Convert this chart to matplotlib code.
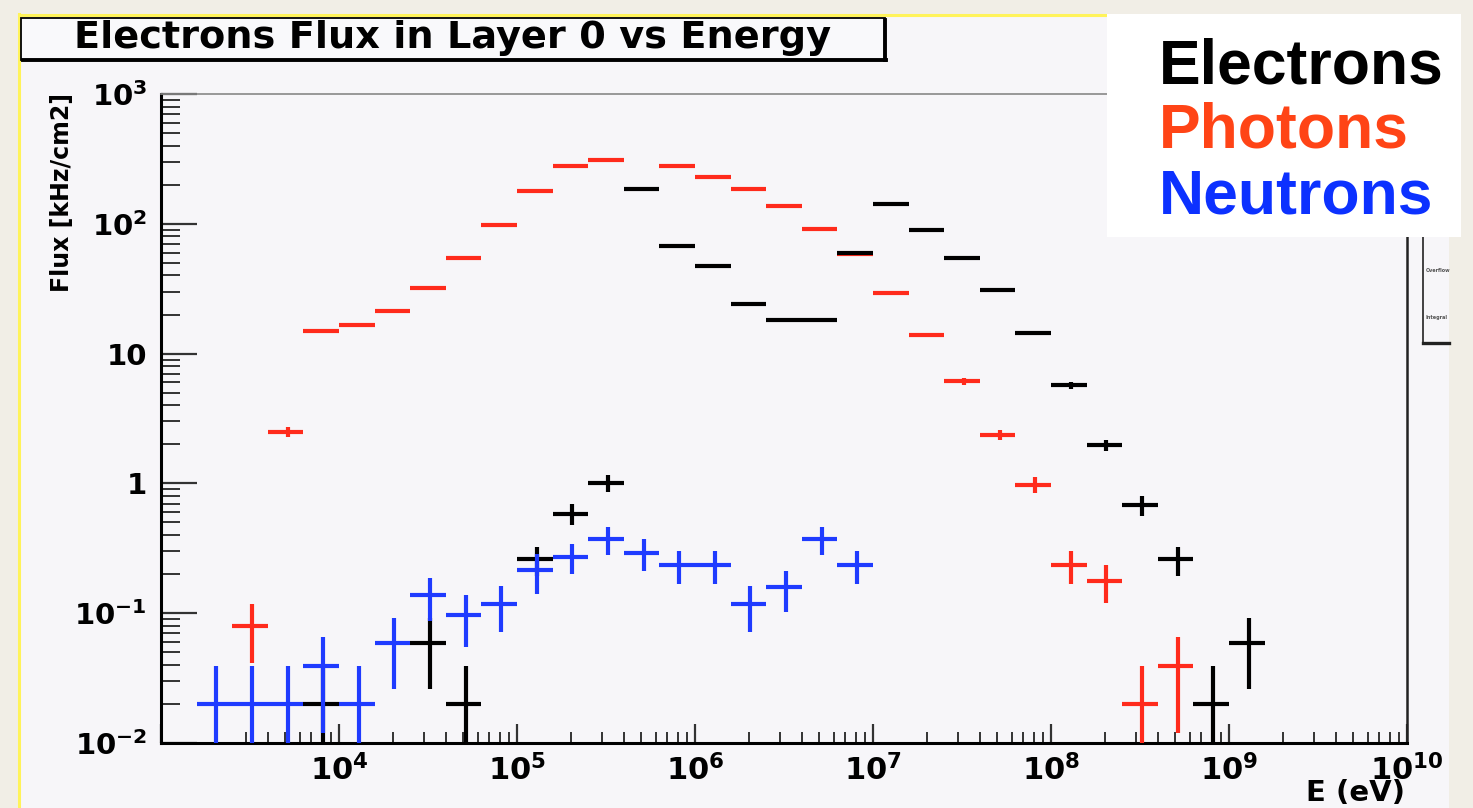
import numpy as np
import matplotlib
matplotlib.use("Agg")
import matplotlib.pyplot as plt
from matplotlib.patches import Rectangle
from matplotlib.lines import Line2D
from matplotlib.ticker import LogLocator, FuncFormatter, NullFormatter

# 35 log bins, 5 per decade, from 1 keV to 10 GeV
bin_edges = np.logspace(3, 10, 36)

nan = np.nan
# flux per bin [kHz/cm2] (nan = empty bin)
electrons = [nan, nan, nan, nan, 0.02, nan, nan, 0.059, 0.02, nan,
             0.26, 0.585, 1.01, 185, 68, 47, 24, 18.2, 18.2, 60,
             141, 89, 55, 31, 14.3, 5.7, 1.96, 0.68, 0.26, 0.02,
             0.059, nan, nan, nan, nan]
electrons_err = [0, 0, 0, 0, 0.019, 0, 0, 0.033, 0.019, 0,
                 0.065, 0.11, 0.15, 2.0, 1.2, 1.0, 0.7, 0.6, 0.6, 1.1,
                 1.7, 1.3, 1.0, 0.8, 0.5, 0.33, 0.19, 0.115, 0.065, 0.019,
                 0.033, 0, 0, 0, 0]

photons = [nan, nan, 0.079, 2.5, 15, 16.7, 21.4, 32, 55, 98,
           180, 277, 311, nan, 277, 230, 185, 136, 91, 59,
           29.4, 13.9, 6.1, 2.37, 0.98, 0.234, 0.177, 0.02, 0.039, nan,
           nan, nan, nan, nan, nan]
photons_err = [0, 0, 0.038, 0.21, 0.53, 0.56, 0.63, 0.78, 1.0, 1.4,
               1.85, 2.3, 2.4, 0, 2.3, 2.1, 1.9, 1.6, 1.3, 1.05,
               0.75, 0.51, 0.34, 0.21, 0.135, 0.065, 0.058, 0.019, 0.027, 0,
               0, 0, 0, 0, 0]

neutrons = [nan, 0.02, 0.02, 0.02, 0.039, 0.02, 0.059, 0.137, 0.097, 0.117,
            0.214, 0.271, 0.37, 0.291, 0.234, 0.234, 0.117, 0.158, 0.37, 0.234,
            nan, nan, nan, nan, nan, nan, nan, nan, nan, nan,
            nan, nan, nan, nan, nan]
neutrons_err = [0, 0.019, 0.019, 0.019, 0.027, 0.019, 0.033, 0.05, 0.042, 0.045,
                0.073, 0.07, 0.09, 0.08, 0.065, 0.065, 0.045, 0.055, 0.09, 0.065,
                0, 0, 0, 0, 0, 0, 0, 0, 0, 0,
                0, 0, 0, 0, 0]

title = "Electrons Flux in Layer 0 vs Energy"
legend_names = ["Electrons", "Photons", "Neutrons"]
legend_colors = ["#000000", "#ff4416", "#0c31ff"]

plt.rcParams["font.family"] = ["DejaVu Sans"]
plt.rcParams["font.weight"] = "bold"
plt.rcParams["mathtext.fontset"] = "dejavusans"
plt.rcParams["mathtext.default"] = "bf"

W, H = 1473, 808
BEIGE = "#f1eee6"
CANVAS = "#f7f6f9"


def fx(px):
    return px / W


def fy(py):
    return 1 - py / H


fig = plt.figure(figsize=(W / 100, H / 100), dpi=100)
fig.patch.set_facecolor(BEIGE)

# ROOT canvas and the yellow slide frame
fig.add_artist(Rectangle((fx(20), 0), fx(1449) - fx(20), fy(16), transform=fig.transFigure,
                         facecolor=CANVAS, edgecolor="none", zorder=-5))
fig.add_artist(Line2D([fx(19), fx(19)], [fy(14), 0], transform=fig.transFigure,
                      color="#fff35a", lw=2.2, zorder=-4))
fig.add_artist(Line2D([fx(19), fx(1107)], [fy(15), fy(15)], transform=fig.transFigure,
                      color="#fff35a", lw=2.2, zorder=-4))

ax = fig.add_axes([fx(161), fy(743), fx(1407) - fx(161), (743 - 94) / H])
ax.set_facecolor(CANVAS)
ax.set_xscale("log")
ax.set_yscale("log")
ax.set_xlim(1e3, 1e10)
ax.set_ylim(1e-2, 1e3)

lo = bin_edges[:-1]
hi = bin_edges[1:]
centers = (lo + hi) / 2

series = [(photons, photons_err, "#ff2b1c", 3),
          (electrons, electrons_err, "#000000", 4),
          (neutrons, neutrons_err, "#1f3bff", 5)]
for vals, errs, col, z in series:
    vals = np.array(vals, dtype=float)
    errs = np.array(errs, dtype=float)
    m = ~np.isnan(vals)
    ax.errorbar(centers[m], vals[m], xerr=[centers[m] - lo[m], hi[m] - centers[m]],
                yerr=errs[m], fmt="none", ecolor=col, elinewidth=3.0, capsize=0, zorder=z)

# ROOT-like axes: ticks inside, left and bottom only
ax.xaxis.set_major_locator(LogLocator(base=10, numticks=20))
ax.xaxis.set_minor_locator(LogLocator(base=10, subs=np.arange(2, 10), numticks=100))
ax.yaxis.set_major_locator(LogLocator(base=10, numticks=20))
ax.yaxis.set_minor_locator(LogLocator(base=10, subs=np.arange(2, 10), numticks=100))


def fmt_x(v, pos):
    e = int(round(np.log10(v)))
    if e <= 3:
        return ""
    return r"$10^{%d}$" % e


def fmt_y(v, pos):
    e = int(round(np.log10(v)))
    if e == 0:
        return "1"
    if e == 1:
        return "10"
    return r"$10^{%d}$" % e


ax.xaxis.set_major_formatter(FuncFormatter(fmt_x))
ax.yaxis.set_major_formatter(FuncFormatter(fmt_y))
ax.xaxis.set_minor_formatter(NullFormatter())
ax.yaxis.set_minor_formatter(NullFormatter())

ax.tick_params(axis="both", which="both", direction="in", top=False, right=False,
               color="#333333")
ax.tick_params(axis="y", which="major", length=26, width=1.6, pad=10, labelsize=21)
ax.tick_params(axis="y", which="minor", length=14, width=1.4)
ax.tick_params(axis="x", which="major", length=14, width=1.6, pad=8, labelsize=22)
ax.tick_params(axis="x", which="minor", length=8, width=1.4)

ax.spines["left"].set_linewidth(2.2)
ax.spines["bottom"].set_linewidth(2.2)
ax.spines["top"].set_color("#888888")
ax.spines["top"].set_linewidth(1.2)
ax.spines["right"].set_color("#222222")
ax.spines["right"].set_linewidth(1.8)

# axis titles
fig.text(fx(62), fy(93), "Flux [kHz/cm2]", rotation=90, ha="center", va="top",
         fontsize=17, fontweight="bold")
fig.text(fx(1405), fy(793), "E (eV)", ha="right", va="center", fontsize=21, fontweight="bold")

# title box with ROOT shadow
fig.add_artist(Rectangle((fx(21), fy(60)), fx(885) - fx(21), (60 - 18) / H, transform=fig.transFigure,
                         facecolor="#f9f9fb", edgecolor="black", lw=1.3, zorder=6))
fig.add_artist(Line2D([fx(23), fx(886)], [fy(60), fy(60)], transform=fig.transFigure,
                      color="black", lw=2.8, zorder=7))
fig.add_artist(Line2D([fx(885), fx(885)], [fy(20), fy(60)], transform=fig.transFigure,
                      color="black", lw=2.8, zorder=7))
fig.text(fx(452), fy(38), title, ha="center", va="center", fontsize=27.5, fontweight="bold", zorder=8)

# stats box peeking out behind the legend
fig.add_artist(Line2D([fx(1423), fx(1423)], [fy(230), fy(343)], transform=fig.transFigure,
                      color="#333333", lw=1.3, zorder=6))
fig.add_artist(Line2D([fx(1423), fx(1449)], [fy(343), fy(343)], transform=fig.transFigure,
                      color="#222222", lw=2.4, zorder=6))
fig.text(fx(1426), fy(271), "Overflow", fontsize=3.5, color="#555555", va="center", zorder=6)
fig.text(fx(1426), fy(318), "Integral", fontsize=3.5, color="#555555", va="center", zorder=6)

# overlaid legend
fig.add_artist(Rectangle((fx(1107), fy(237)), fx(1461) - fx(1107), (237 - 14) / H,
                         transform=fig.transFigure, facecolor="white", edgecolor="none", zorder=10))
for name, col, base in zip(legend_names, legend_colors, [83, 148, 213]):
    fig.text(fx(1159), fy(base), name, color=col, fontsize=45, fontweight="bold",
             family=["Liberation Sans", "DejaVu Sans"], va="baseline", ha="left", zorder=11)

fig.savefig("out.png", dpi=100, facecolor=BEIGE)
